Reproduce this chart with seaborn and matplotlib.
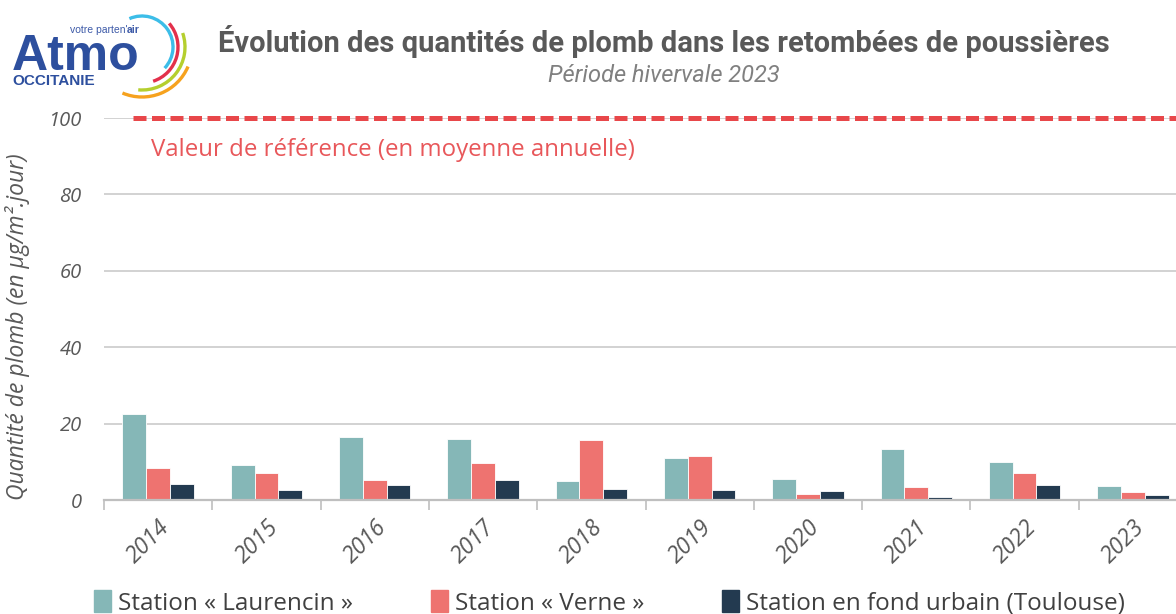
import numpy as np
import pandas as pd
import matplotlib
matplotlib.use("Agg")
import matplotlib.pyplot as plt
from matplotlib.patches import Arc, Rectangle
import seaborn as sns

## Data
years = ["2014", "2015", "2016", "2017", "2018", "2019", "2020", "2021", "2022", "2023"]
laurencin = [22.5, 9.2, 16.5, 16.0, 5.0, 11.0, 5.5, 13.4, 10.0, 3.7]
verne = [8.4, 7.1, 5.2, 9.7, 15.7, 11.5, 1.6, 3.3, 7.1, 2.1]
fond_urbain = [4.2, 2.6, 3.9, 5.2, 2.9, 2.6, 2.4, 0.9, 3.9, 1.2]
stations = ["Station « Laurencin »", "Station « Verne »", "Station en fond urbain (Toulouse)"]
palette = ["#85B7B7", "#EE7370", "#233A50"]
ref_value = 100
ref_label = "Valeur de référence (en moyenne annuelle)"
yticks = [0, 20, 40, 60, 80, 100]

df = pd.DataFrame({
    "annee": years * 3,
    "valeur": laurencin + verne + fond_urbain,
    "station": np.repeat(stations, len(years)),
})

sns.set_theme(style="white")
plt.rcParams["font.family"] = ["Open Sans", "DejaVu Sans"]

W, H = 1176, 614
fig = plt.figure(figsize=(W / 100, H / 100), dpi=100)
ax = fig.add_axes([104 / W, 114 / H, 1083 / W, 382 / H])

sns.barplot(data=df, x="annee", y="valeur", hue="station", palette=palette,
            width=0.66, ax=ax, legend=False, edgecolor="white", linewidth=0.6,
            saturation=1)

ax.set_ylim(0, 100)
ax.set_xlim(-0.5, len(years) - 0.5)
ax.set_yticks(yticks)
ax.yaxis.grid(True, color="#CFCFCF", lw=1.3)
ax.set_axisbelow(True)
for s in ["top", "right", "left"]:
    ax.spines[s].set_visible(False)
ax.spines["bottom"].set_color("#BFBFBF")
ax.spines["bottom"].set_linewidth(1.6)

# ticks between categories
ax.set_xticks(np.arange(-0.5, len(years), 1.0), minor=True)
ax.tick_params(axis="x", which="minor", length=7, width=1.2, color="#BFBFBF", bottom=True)
ax.tick_params(axis="x", which="major", length=0, pad=11)
ax.tick_params(axis="y", length=0, pad=16)
ax.set_xticklabels(years, rotation=45, ha="right", rotation_mode="anchor",
                   fontsize=16.5, style="italic", color="#595959")
for lab in ax.get_yticklabels():
    lab.set_fontsize(14.5)
    lab.set_style("italic")
    lab.set_color("#595959")
ax.set_xlabel("")
ax.set_ylabel("Quantité de plomb (en µg/m².jour)", fontsize=16.5, style="italic",
              color="#595959")
ax.yaxis.set_label_coords(-0.068, 0.453)

# reference line
ax.axhline(ref_value, xmin=0.027, color="#E8474A", lw=3.6, dashes=(2.6, 1.1),
           clip_on=False, zorder=5)
ax.text(-0.07, 91.6, ref_label, color="#E8575A", fontsize=17.3, va="center", ha="left")

# legend (cut by the bottom edge, as in the original)
handles = [Rectangle((0, 0), 1, 1, color=c) for c in palette]
fig.legend(handles, stations, loc="center left", bbox_to_anchor=(84 / W, 1 - 603 / H),
           ncol=3, frameon=False, fontsize=17.5, handlelength=0.7, handleheight=1.0,
           handletextpad=0.3, columnspacing=3.2, labelcolor="#404040", borderaxespad=0)

# titles
fig.text(664 / W, 1 - 42 / H, "Évolution des quantités de plomb dans les retombées de poussières",
         ha="center", va="center", fontsize=21, weight="bold", color="#595959",
         family=["Roboto", "DejaVu Sans"])
fig.text(664 / W, 1 - 76 / H, "Période hivervale 2023", ha="center", va="center",
         fontsize=17, style="italic", color="#808080", family=["Roboto", "DejaVu Sans"])

# logo
lg = fig.add_axes([0, 0, 1, 1])
lg.set_xlim(0, W)
lg.set_ylim(H, 0)
lg.axis("off")
lg.patch.set_alpha(0)
lg.text(12, 70, "Atmo", fontsize=36, weight="bold", color="#2D4F9E", va="baseline",
        family=["Liberation Sans", "DejaVu Sans"])
lg.text(70, 33, "votre parten'", fontsize=7.5, color="#3D5AA8", va="baseline",
        family=["Liberation Sans", "DejaVu Sans"])
lg.text(127, 33, "air", fontsize=7.5, weight="bold", color="#3D5AA8", va="baseline",
        family=["Liberation Sans", "DejaVu Sans"])
lg.text(12, 85, "OCCITANIE", fontsize=11, weight="bold", color="#2D4F9E", va="baseline",
        family=["Liberation Sans", "DejaVu Sans"])
cx, cy = 142, 47
for r, t1, t2, c in [(31, -114, 43, "#3CBDE8"), (36, -41, 72, "#E3304B"),
                     (43, -19, 95, "#B5CF2E"), (50, 23, 113, "#F6A21E")]:
    lg.add_patch(Arc((cx, cy), 2 * r, 2 * r, theta1=t1, theta2=t2, color=c, lw=2.4))

fig.savefig("out.png", dpi=100)
